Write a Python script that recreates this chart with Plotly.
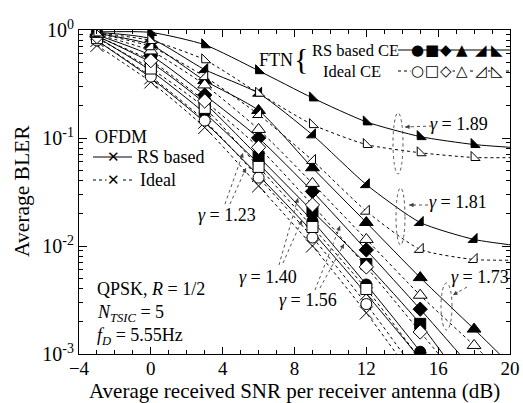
import plotly.graph_objects as go

# ---------------- data ----------------
snr_db = [-3, 0, 3, 6, 9, 12, 15, 18, 21]

ofdm_rs    = [0.80, 0.36, 0.140, 0.045, 0.0135, 0.0036, 0.0009, 0.0002, None]
ofdm_ideal = [0.72, 0.33, 0.125, 0.036, 0.0100, 0.0024, 0.0005, 0.0001, None]

ftn_rs_123    = [0.86, 0.42, 0.17, 0.058, 0.017, 0.0044, 0.00105, 0.0002, None]
ftn_ideal_123 = [0.80, 0.37, 0.145, 0.043, 0.012, 0.0029, 0.0006, 0.0001, None]
ftn_rs_140    = [0.88, 0.50, 0.21, 0.067, 0.021, 0.0068, 0.0019, 0.0004, None]
ftn_ideal_140 = [0.84, 0.44, 0.19, 0.054, 0.015, 0.0040, 0.0009, 0.0002, None]
ftn_rs_156    = [0.90, 0.58, 0.25, 0.100, 0.032, 0.0092, 0.0026, 0.0007, None]
ftn_ideal_156 = [0.87, 0.52, 0.22, 0.082, 0.024, 0.0064, 0.0016, 0.0004, None]
ftn_rs_173    = [0.93, 0.73, 0.34, 0.180, 0.053, 0.0165, 0.0051, 0.0017, 0.00055]
ftn_ideal_173 = [0.91, 0.64, 0.31, 0.120, 0.038, 0.0115, 0.0035, 0.0012, 0.0004]
ftn_rs_181    = [0.95, 0.83, 0.43, 0.260, 0.107, 0.037, 0.0165, 0.0115, 0.0098]
ftn_ideal_181 = [0.93, 0.70, 0.37, 0.165, 0.062, 0.021, 0.0093, 0.0075, 0.0074]
ftn_rs_189    = [0.96, 0.95, 0.73, 0.420, 0.235, 0.141, 0.103, 0.087, 0.080]
ftn_ideal_189 = [0.94, 0.80, 0.53, 0.260, 0.133, 0.087, 0.073, 0.066, 0.066]

gamma_labels = ["1.23", "1.40", "1.56", "1.73", "1.81", "1.89"]
ftn_rs = [ftn_rs_123, ftn_rs_140, ftn_rs_156, ftn_rs_173, ftn_rs_181, ftn_rs_189]
ftn_ideal = [ftn_ideal_123, ftn_ideal_140, ftn_ideal_156, ftn_ideal_173, ftn_ideal_181, ftn_ideal_189]

y_tick_vals = [0.001, 0.01, 0.1, 1]
y_tick_text = ["10<sup>-3</sup>", "10<sup>-2</sup>", "10<sup>-1</sup>", "10<sup>0</sup>"]
x_tick_vals = [-4, 0, 4, 8, 12, 16, 20]

# ---------------- styles ----------------
SERIF = "Liberation Serif"
SYM = "DejaVu Sans"
symbols = ["circle", "square", "diamond", "triangle-up", "triangle-se", "triangle-sw"]
sizes = [11, 11, 11, 12, 10, 10]

fig = go.Figure()

def add(y, symbol, size, filled, dash, name):
    fig.add_trace(go.Scatter(
        x=snr_db, y=y, mode="lines+markers", name=name,
        line=dict(color="black", width=1, dash=dash, shape="spline", smoothing=0.6),
        marker=dict(symbol=symbol, size=size,
                    color="black" if filled else "white",
                    line=dict(color="black", width=1)),
        showlegend=False))

add(ofdm_ideal, "x-thin", 13, True, "dot", "OFDM Ideal")
add(ofdm_rs, "x-thin", 13, True, "solid", "OFDM RS")
for g, y, s, sz in zip(gamma_labels, ftn_rs, symbols, sizes):
    add(y, s, sz, True, "solid", "FTN RS " + g)
for g, y, s, sz in zip(gamma_labels, ftn_ideal, symbols, sizes):
    add(y, s, sz, False, "dot", "FTN Ideal " + g)

# ---------------- layout helpers (pixel -> paper) ----------------
L, R, T, B = 79, 510, 30, 354
def px(v): return (v - L) / (R - L)
def py(v): return (B - v) / (B - T)

annotations = []
shapes = []

def text(s, x, y, size=18, xanchor="center", family=SERIF, bg=None, angle=0):
    d = dict(text=s, x=px(x), y=py(y), xref="paper", yref="paper",
             showarrow=False, xanchor=xanchor, yanchor="middle",
             font=dict(family=family, size=size, color="black"), textangle=angle)
    if bg:
        d.update(bgcolor=bg, borderpad=0)
    annotations.append(d)

def dotted_arrow(tx, ty, hx, hy):
    shapes.append(dict(type="line", xref="paper", yref="paper",
                       x0=px(tx), y0=py(ty), x1=px(hx), y1=py(hy),
                       line=dict(color="#555", width=1, dash="dot")))
    dx, dy = tx - hx, ty - hy
    n = (dx * dx + dy * dy) ** 0.5
    annotations.append(dict(text="", x=px(hx), y=py(hy), xref="paper", yref="paper",
                            showarrow=True, arrowhead=2, arrowsize=0.9, arrowwidth=1,
                            arrowcolor="#444", ax=dx / n * 7, ay=dy / n * 7))

def ellipse(x0, x1, y0, y1):
    shapes.append(dict(type="circle", xref="paper", yref="paper",
                       x0=px(x0), x1=px(x1), y0=py(y1), y1=py(y0),
                       line=dict(color="#555", width=1, dash="dot")))

def hline(x0, x1, y, dash):
    shapes.append(dict(type="line", xref="paper", yref="paper",
                       x0=px(x0), x1=px(x1), y0=py(y), y1=py(y),
                       line=dict(color="black", width=1, dash=dash)))

# axis titles
text("Average received SNR per receiver antenna (dB)", 294, 391, size=21)
text("Average BLER", 22, 191, size=21.5, angle=-90)

# FTN legend
text("FTN", 276, 60, size=18)
text("{", 301, 58, size=30)
text("RS based CE", 355, 50, size=16.5)
text("Ideal CE", 352, 71, size=16.5)
hline(398, 510, 50, "solid")
hline(398, 510, 71, "dot")
for g, xc in zip(["●", "■", "◆", "▲", "◢", "◣"], [417, 432, 446, 462, 481, 497]):
    text(g, xc, 50, size=15, family=SYM)
for g, xc in zip(["○", "□", "◇", "△", "◿", "◺"], [417, 432, 446, 462, 481, 497]):
    text(g, xc, 71, size=15, family=SYM, bg="white")

# OFDM legend
text("OFDM", 93, 137, size=18, xanchor="left")
hline(93, 132, 157, "solid")
hline(93, 132, 180, "dot")
text("✕", 113, 157, size=15, family=SYM)
text("✕", 113, 180, size=15, family=SYM, bg="white")
text("RS based", 135, 157, size=18, xanchor="left")
text("Ideal", 138, 180, size=18, xanchor="left")

# parameters
text("QPSK, <i>R</i> = 1/2", 95, 289, size=18, xanchor="left")
text("<i>N<sub>TSIC</sub></i> = 5", 95, 313, size=18, xanchor="left")
text("<i>f<sub>D</sub></i> = 5.55Hz", 95, 336, size=18, xanchor="left")

# gamma annotations
text("<i>γ</i> = 1.89", 459, 124, size=18)
ellipse(393, 403, 113, 174)
dotted_arrow(432, 126, 405, 127)

text("<i>γ</i> = 1.81", 458, 202, size=18)
ellipse(396, 405, 188, 245)
dotted_arrow(428, 205, 409, 205)

text("<i>γ</i> = 1.73", 480, 277, size=18)
ellipse(441, 452, 283, 330)
dotted_arrow(467, 287, 453, 295)

text("<i>γ</i> = 1.23", 227, 215, size=18)
dotted_arrow(225, 204, 243, 153)
dotted_arrow(230, 204, 246, 168)

text("<i>γ</i> = 1.40", 268, 277, size=18)
dotted_arrow(279, 265, 298, 198)
dotted_arrow(283, 263, 302, 220)

text("<i>γ</i> = 1.56", 308, 300, size=18)
dotted_arrow(315, 290, 340, 226)
dotted_arrow(320, 288, 344, 244)

fig.update_layout(
    template="none",
    width=523, height=403,
    margin=dict(l=L, r=523 - R, t=T, b=403 - B, pad=0, autoexpand=False),
    paper_bgcolor="white", plot_bgcolor="white",
    font=dict(family=SERIF, size=19, color="black"),
    annotations=annotations, shapes=shapes,
    xaxis=dict(range=[-4, 20], tickvals=x_tick_vals, ticks="inside", ticklen=7,
               tickcolor="black", showline=True, linecolor="black", linewidth=1,
               mirror="ticks", showgrid=False, zeroline=False, automargin=False,
               tickfont=dict(family=SERIF, size=19), ticklabelstandoff=-3,
               minor=dict(dtick=1, ticks="inside", ticklen=4, tickcolor="black", showgrid=False)),
    yaxis=dict(type="log", range=[-3, 0], tickvals=y_tick_vals, ticktext=y_tick_text,
               ticks="inside", ticklen=8, tickcolor="black", showline=True,
               linecolor="black", linewidth=1, mirror="ticks", showgrid=False,
               zeroline=False, automargin=False,
               tickfont=dict(family=SERIF, size=20),
               minor=dict(dtick="D1", ticks="inside", ticklen=4, tickcolor="black", showgrid=False)),
)

fig.write_html("out.html", config={"displayModeBar": False},
               post_script="document.body.style.margin='0';document.body.style.overflow='hidden';")
